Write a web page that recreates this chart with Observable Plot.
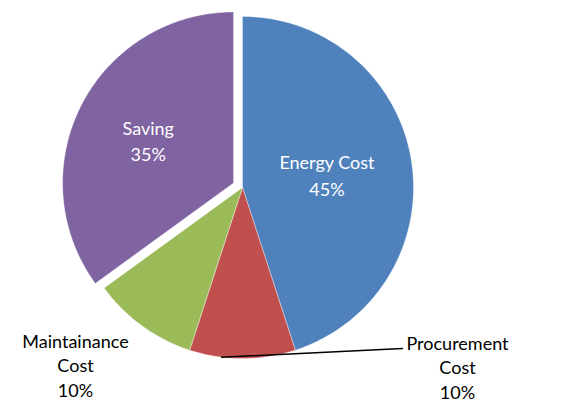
<!DOCTYPE html>
<html>
<head>
<meta charset="utf-8">
<script src="https://cdn.jsdelivr.net/npm/d3@7"></script>
<script src="https://cdn.jsdelivr.net/npm/@observablehq/plot@0.6"></script>
<style>
  html, body { margin: 0; padding: 0; background: #fff; }
  #chart svg { display: block; }
</style>
</head>
<body>
<div id="chart"></div>
<script>
// ---- data ----
const categories = ["Energy Cost", "Procurement Cost", "Maintainance Cost", "Saving"];
const shares = [45, 10, 10, 35];
const colors = ["#4F81BD", "#C0504D", "#9BBB59", "#8064A2"];
const labelLines = [["Energy Cost"], ["Procurement", "Cost"], ["Maintainance", "Cost"], ["Saving"]];

// ---- layout (pixels) ----
const W = 573, H = 402;
const CX = 242, CY = 187, R = 171;
const explode = [0, 0, 0, 10];           // px offset along mid-angle
const labelRadius = [0.50, null, null, 0.56]; // inside labels, fraction of R
const outsideLabel = [null, [457, 366], [75, 364], null]; // centre of label block (px)
const leader = {slice: 1, angleDeg: 187, to: [402, 348]};

const toX = px => (px - CX) / R;
const toY = py => (CY - py) / R;

// pie angles (clockwise from 12 o'clock)
const total = d3.sum(shares);
let acc = 0;
const slices = categories.map((name, i) => {
  const a0 = acc / total * 2 * Math.PI;
  acc += shares[i];
  const a1 = acc / total * 2 * Math.PI;
  const mid = (a0 + a1) / 2;
  const off = explode[i] / R;
  return {name, i, a0, a1, mid, ox: off * Math.sin(mid), oy: off * Math.cos(mid)};
});

// polygons
const polys = [];
for (const s of slices) {
  polys.push({name: s.name, x: s.ox, y: s.oy});
  const n = Math.max(8, Math.ceil((s.a1 - s.a0) / (Math.PI / 180)));
  for (let k = 0; k <= n; k++) {
    const a = s.a0 + (s.a1 - s.a0) * k / n;
    polys.push({name: s.name, x: s.ox + Math.sin(a), y: s.oy + Math.cos(a)});
  }
  polys.push({name: s.name, x: s.ox, y: s.oy});
}

// labels
const inside = [], outside = [];
for (const s of slices) {
  const text = [...labelLines[s.i], shares[s.i] + "%"].join("\n");
  if (labelRadius[s.i] != null) {
    const r = labelRadius[s.i];
    inside.push({text, x: s.ox + r * Math.sin(s.mid), y: s.oy + r * Math.cos(s.mid)});
  } else {
    const [px, py] = outsideLabel[s.i];
    outside.push({text, x: toX(px), y: toY(py)});
  }
}

const la = leader.angleDeg * Math.PI / 180;
const leaderLine = [
  {x: Math.sin(la), y: Math.cos(la)},
  {x: toX(leader.to[0]), y: toY(leader.to[1])}
];

const font = "Lato, 'Open Sans', sans-serif";
const plot = Plot.plot({
  width: W, height: H,
  margin: 0,
  style: {fontFamily: font, background: "#fff"},
  x: {domain: [toX(0), toX(W)], range: [0, W], axis: null},
  y: {domain: [toY(0), toY(H)], range: [0, H], axis: null},
  color: {domain: categories, range: colors},
  marks: [
    Plot.line(polys, {x: "x", y: "y", z: "name", fill: "name", stroke: "#fff", strokeWidth: 0.6, strokeOpacity: 0.6, curve: "linear"}),
    Plot.line(leaderLine, {x: "x", y: "y", stroke: "#000", strokeWidth: 1.5}),
    Plot.text(inside, {x: "x", y: "y", text: "text", fill: "#fff", fontSize: 18, lineHeight: 1.45, textAnchor: "middle", lineAnchor: "middle"}),
    Plot.text(outside, {x: "x", y: "y", text: "text", fill: "#000", fontSize: 18, lineHeight: 1.38, textAnchor: "middle", lineAnchor: "middle"})
  ]
});
document.getElementById("chart").appendChild(plot);
</script>
</body>
</html>
